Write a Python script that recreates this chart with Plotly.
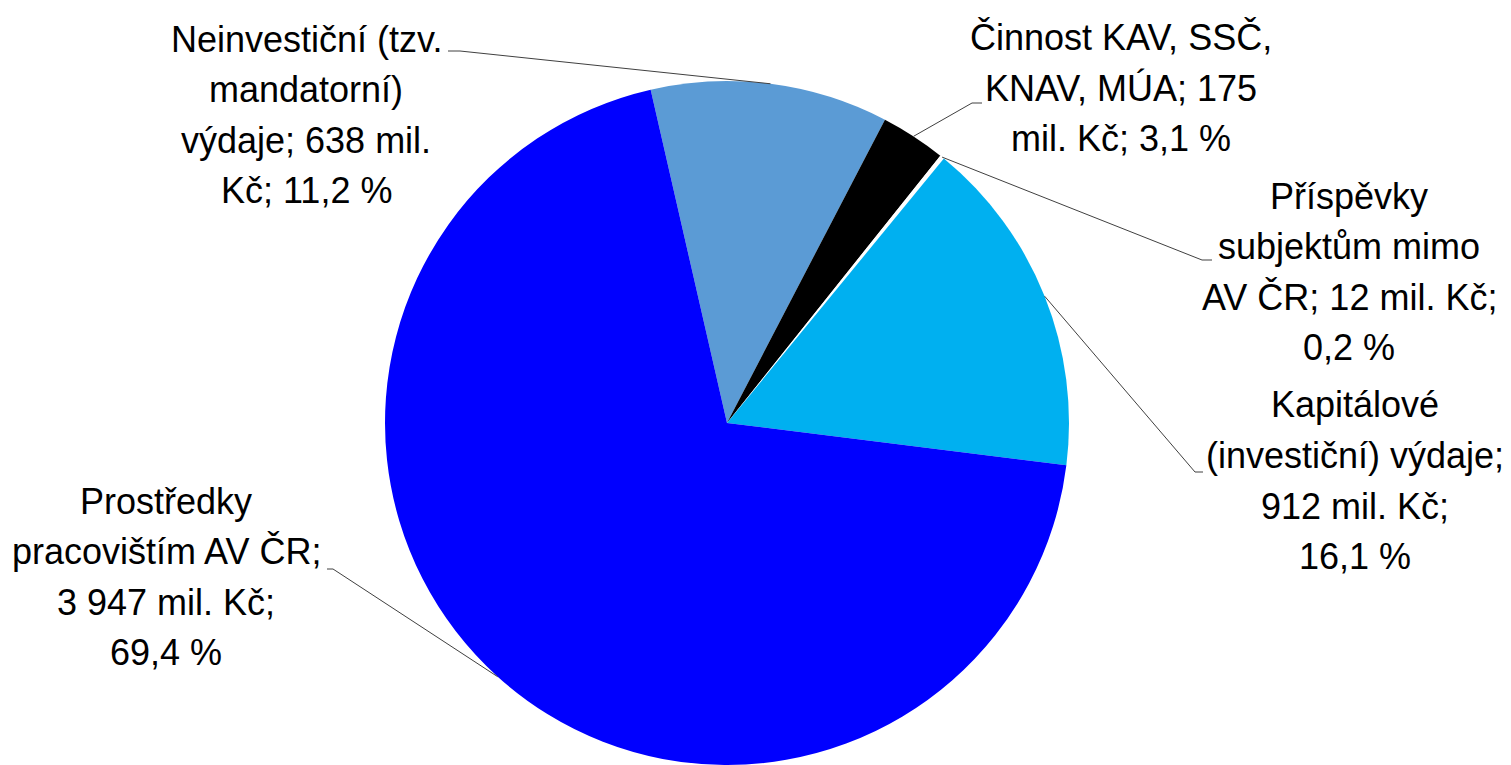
import math
import plotly.graph_objects as go

# ---- data ----
categories = [
    "Neinvestiční (tzv. mandatorní) výdaje",
    "Činnost KAV, SSČ, KNAV, MÚA",
    "Příspěvky subjektům mimo AV ČR",
    "Kapitálové (investiční) výdaje",
    "Prostředky pracovištím AV ČR",
]
values = [638, 175, 12, 912, 3947]
label_lines = [
    ["Neinvestiční (tzv.", "mandatorní)", "výdaje; 638 mil.", "Kč; 11,2 %"],
    ["Činnost KAV, SSČ,", "KNAV, MÚA; 175", "mil. Kč; 3,1 %"],
    ["Příspěvky", "subjektům mimo", "AV ČR; 12 mil. Kč;", "0,2 %"],
    ["Kapitálové", "(investiční) výdaje;", "912 mil. Kč;", "16,1 %"],
    ["Prostředky", "pracovištím AV ČR;", "3 947 mil. Kč;", "69,4 %"],
]
colors = ["#5B9BD5", "#000000", "#FFFFFF", "#00B0F0", "#0000FF"]

# ---- layout geometry (page pixels; the figure div sits 8px in from the page corner) ----
OFF = 8
W, H = 1503, 757
ML, MR, MT, MB = 0, 65, 73, 0
PW, PH = W - ML - MR, H - MT - MB
R = min(PW, PH) / 2
CX, CY = OFF + ML + PW / 2, OFF + MT + PH / 2
ROTATION = -12.9
LINE_GAP = 50.5

# label anchors: (centre x, centre y of first line)
label_pos = [(306, 39), (1121, 38), (1349, 196), (1355, 405), (166, 501)]
elbow_pos = [(460, 51), (972, 103), (1202, 260), (1195, 472), (333, 569)]
end_pos = [(448, 51), (982, 103), (1212, 260), (1203, 472), (327, 569)]


def px(x):
    return (x - OFF - ML) / PW


def py(y):
    return 1 - (y - OFF - MT) / PH


fig = go.Figure(
    go.Pie(
        labels=categories,
        values=values,
        sort=False,
        direction="clockwise",
        rotation=ROTATION,
        marker=dict(colors=colors, line=dict(width=0)),
        textinfo="none",
        hoverinfo="label+value+percent",
        showlegend=False,
    )
)

total = sum(values)
angle = ROTATION
shapes = []
annotations = []
font = dict(family="Liberation Sans, Arial, sans-serif", size=36, color="#000000")
for i, v in enumerate(values):
    span = 360 * v / total
    mid = math.radians(angle + span / 2)
    angle += span
    ax = CX + R * math.sin(mid)
    ay = CY - R * math.cos(mid)
    ex, ey = elbow_pos[i]
    tx, ty = end_pos[i]
    line_style = dict(color="#404040", width=1)
    shapes.append(dict(type="line", xref="paper", yref="paper",
                       x0=px(ax), y0=py(ay), x1=px(ex), y1=py(ey), line=line_style))
    shapes.append(dict(type="line", xref="paper", yref="paper",
                       x0=px(ex), y0=py(ey), x1=px(tx), y1=py(ty), line=line_style))
    lx, ly = label_pos[i]
    for j, txt in enumerate(label_lines[i]):
        annotations.append(dict(
            x=px(lx), y=py(ly + j * LINE_GAP), xref="paper", yref="paper",
            text=txt, showarrow=False,
            xanchor="center", yanchor="middle", align="center",
            font=font,
        ))

fig.update_layout(
    width=W, height=H,
    margin=dict(l=ML, r=MR, t=MT, b=MB, pad=0),
    paper_bgcolor="white", plot_bgcolor="white",
    shapes=shapes, annotations=annotations,
)

fig.write_html("out.html")
